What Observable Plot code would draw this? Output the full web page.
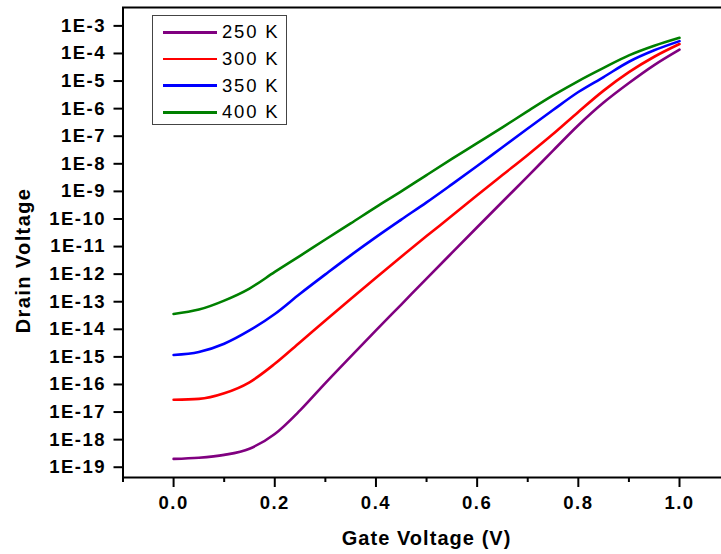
<!DOCTYPE html>
<html>
<head>
<meta charset="utf-8">
<script src="https://cdn.jsdelivr.net/npm/d3@7"></script>
<script src="https://cdn.jsdelivr.net/npm/@observablehq/plot@0.6"></script>
<style>
  html, body { margin: 0; padding: 0; background: #fff; }
  #wrap { position: relative; width: 721px; height: 554px; overflow: hidden; }
  #wrap svg { font-family: "Liberation Sans", Arial, sans-serif; }
  g[aria-label="y-axis tick label"] text, g[aria-label="x-axis tick label"] text { letter-spacing: 1.5px; }
  #legend { position: absolute; left: 152px; top: 15px; width: 135px; height: 110px; box-sizing: border-box;
    border: 1.3px solid #444; background: #fff; font-family: "Liberation Sans", Arial, sans-serif; }
  .row { position: absolute; left: 0; height: 20px; width: 135px; }
  .sw { position: absolute; left: 10px; width: 54px; height: 2.7px; top: 8.7px; }
  .lb { position: absolute; left: 69px; top: 0; line-height: 20px; font-size: 18.5px; letter-spacing: 1.8px; color: #000; white-space: nowrap; }
</style>
</head>
<body>
<div id="wrap"></div>
<script>
// Gate voltage (V)
const gateV = [0, 0.05, 0.1, 0.15, 0.2, 0.25, 0.3, 0.35, 0.4, 0.45, 0.5, 0.55, 0.6, 0.65, 0.7, 0.75, 0.8, 0.85, 0.9, 0.95, 1.0];
// Drain values per temperature
const drain250 = [2.0e-19, 2.2e-19, 2.8e-19, 4.7e-19, 1.6e-18, 1.15e-17, 1.12e-16, 1.02e-15, 9.1e-15, 7.9e-14, 6.9e-13, 5.9e-12, 5.0e-11, 4.2e-10, 3.5e-9, 3.0e-8, 2.5e-7, 1.66e-6, 8.5e-6, 3.8e-5, 1.38e-4];
const drain300 = [2.8e-17, 3.0e-17, 4.8e-17, 1.2e-16, 5.6e-16, 3.4e-15, 2.1e-14, 1.26e-13, 7.4e-13, 4.3e-12, 2.4e-11, 1.3e-10, 7.2e-10, 3.9e-9, 2.1e-8, 1.2e-7, 7.6e-7, 4.5e-6, 2.1e-5, 7.6e-5, 2.2e-4];
const drain350 = [1.17e-15, 1.5e-15, 3.0e-15, 9.1e-15, 3.6e-14, 1.95e-13, 9.8e-13, 4.8e-12, 2.2e-11, 9.5e-11, 4.0e-10, 1.8e-9, 8.3e-9, 4.0e-8, 1.9e-7, 8.9e-7, 4.0e-6, 1.4e-5, 5.0e-5, 1.3e-4, 2.8e-4];
const drain400 = [3.6e-14, 5.2e-14, 1.1e-13, 3.0e-13, 1.2e-12, 4.6e-12, 1.8e-11, 6.9e-11, 2.7e-10, 1.0e-9, 3.9e-9, 1.5e-8, 5.6e-8, 2.1e-7, 8.1e-7, 3.0e-6, 1.0e-5, 3.0e-5, 8.5e-5, 1.9e-4, 3.7e-4];

const seriesNames = ["250 K", "300 K", "350 K", "400 K"];
const seriesColors = ["#800080", "#ff0000", "#0000ff", "#008000"];
const seriesValues = [drain250, drain300, drain350, drain400];

const yTicks = [1e-3, 1e-4, 1e-5, 1e-6, 1e-7, 1e-8, 1e-9, 1e-10, 1e-11, 1e-12, 1e-13, 1e-14, 1e-15, 1e-16, 1e-17, 1e-18, 1e-19];
const yTickLabels = ["1E-3", "1E-4", "1E-5", "1E-6", "1E-7", "1E-8", "1E-9", "1E-10", "1E-11", "1E-12", "1E-13", "1E-14", "1E-15", "1E-16", "1E-17", "1E-18", "1E-19"];
const xTicks = [0, 0.2, 0.4, 0.6, 0.8, 1.0];
const xTickLabels = ["0.0", "0.2", "0.4", "0.6", "0.8", "1.0"];
const xMinorTicks = [-0.1, 0.1, 0.3, 0.5, 0.7, 0.9, 1.1];

const xTitle = "Gate Voltage (V)";
const yTitle = "Drain Voltage";

const rows = [];
seriesNames.forEach((name, s) => {
  gateV.forEach((v, i) => rows.push({series: name, v, d: seriesValues[s][i]}));
});

const plot = Plot.plot({
  width: 721,
  height: 554,
  marginLeft: 122.5,
  marginRight: -8.6,
  marginTop: 7,
  marginBottom: 77,
  style: {background: "#fff", color: "#000", overflow: "hidden"},
  x: {domain: [-0.1, 1.1]},
  y: {type: "log", domain: [4.24e-20, 4.64e-3]},
  color: {domain: seriesNames, range: seriesColors},
  marks: [
    Plot.line(rows, {x: "v", y: "d", z: "series", stroke: "series", strokeWidth: 2.6, curve: "monotone-x"}),
    Plot.frame({stroke: "#000", strokeWidth: 2}),
    Plot.axisY(yTicks, {
      label: null, tickSize: 9, tickPadding: 8, strokeWidth: 2,
      tickFormat: (d) => yTickLabels[yTicks.indexOf(d)],
      fontSize: 18.5, fontWeight: "bold", fill: "#000"
    }),
    Plot.axisX(xTicks, {
      label: null, tickSize: 10, tickPadding: 8, strokeWidth: 2,
      tickFormat: (d) => xTickLabels[xTicks.indexOf(d)],
      fontSize: 18.5, fontWeight: "bold", fill: "#000"
    }),
    Plot.axisX(xMinorTicks, {label: null, tickSize: 5, strokeWidth: 2, tickFormat: () => ""}),
    Plot.text([yTitle], {frameAnchor: "left", textAnchor: "middle", rotate: -90, dx: -99.2, dy: 18, fontSize: 20, fontWeight: "bold", fill: "#000"}),
    Plot.text([xTitle], {frameAnchor: "bottom", textAnchor: "middle", lineAnchor: "top", dy: 53, fontSize: 20, fontWeight: "bold", fill: "#000"})
  ]
});

const wrap = document.getElementById("wrap");
wrap.appendChild(plot);

// letter spacing for axis titles
plot.querySelectorAll("text").forEach((t) => {
  if (t.textContent === yTitle) t.style.letterSpacing = "1.4px";
  if (t.textContent === xTitle) t.style.letterSpacing = "1.05px";
});

const legend = document.createElement("div");
legend.id = "legend";
seriesNames.forEach((name, i) => {
  const row = document.createElement("div");
  row.className = "row";
  row.style.top = (6.3 + i * 26.67) + "px";
  const sw = document.createElement("div");
  sw.className = "sw";
  sw.style.background = seriesColors[i];
  const lb = document.createElement("div");
  lb.className = "lb";
  lb.textContent = name;
  row.appendChild(sw);
  row.appendChild(lb);
  legend.appendChild(row);
});
wrap.appendChild(legend);
</script>
</body>
</html>
